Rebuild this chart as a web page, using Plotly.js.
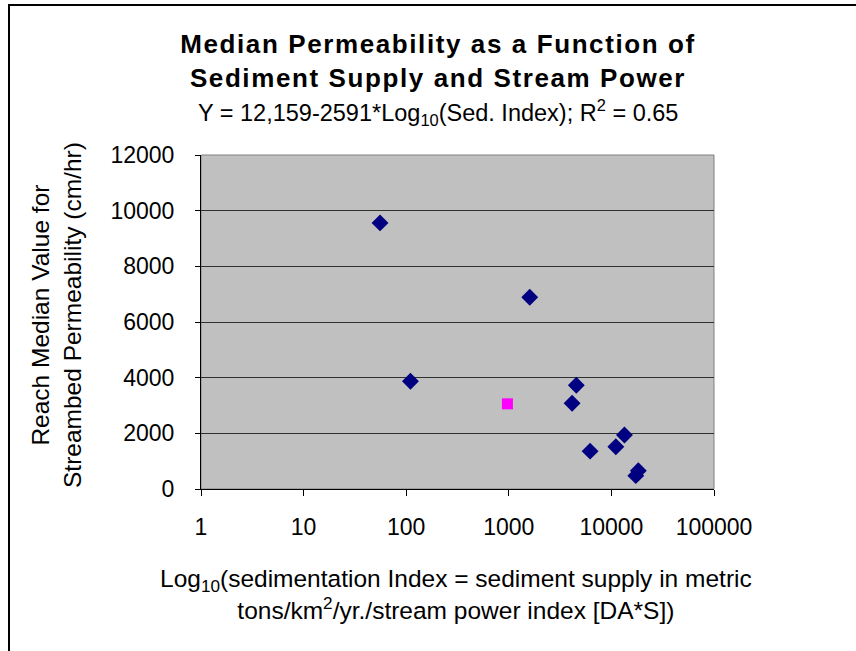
<!DOCTYPE html>
<html>
<head>
<meta charset="utf-8">
<script src="https://cdn.plot.ly/plotly-3.0.1.min.js"></script>
<style>
  html, body { margin: 0; padding: 0; background: #ffffff; }
  #frame { position: absolute; left: 8px; top: 4px; width: 860px; height: 660px;
           border-left: 2px solid #000; border-top: 2px solid #000; box-sizing: border-box; }
  #chart { position: absolute; left: 0; top: 0; width: 856px; height: 651px; }
  #chart text.gtitle { letter-spacing: 1.6px; }
</style>
</head>
<body>
<div id="chart"></div>
<div id="frame"></div>
<script>
// Sedimentation index (x, log scale) and reach median permeability (y, cm/hr)
const sedIndex = [55.6, 110, 1600, 4550, 4140, 6200, 11050, 13400, 18300, 17300];
const permeability = [9560, 3870, 6890, 3730, 3080, 1360, 1520, 1940, 660, 480];
// Highlighted site (magenta square)
const highlightSedIndex = [970];
const highlightPermeability = [3060];

const xTickVals = [1, 10, 100, 1000, 10000, 100000];
const xTickText = ['1', '10', '100', '1000', '10000', '100000'];
const yTickVals = [0, 2000, 4000, 6000, 8000, 10000, 12000];
const yTickText = ['0', '2000', '4000', '6000', '8000', '10000', '12000'];

const FONT = 'Liberation Sans, Arial, sans-serif';

const traces = [
  {
    x: sedIndex, y: permeability, type: 'scatter', mode: 'markers',
    marker: { symbol: 'diamond', color: '#000080', size: 13 },
    showlegend: false, cliponaxis: false
  },
  {
    x: highlightSedIndex, y: highlightPermeability, type: 'scatter', mode: 'markers',
    marker: { symbol: 'square', color: '#FF00FF', size: 11 },
    showlegend: false, cliponaxis: false
  }
];

const layout = {
  width: 856, height: 651,
  margin: { l: 201, r: 142, t: 155, b: 162 },
  paper_bgcolor: '#ffffff',
  plot_bgcolor: '#C0C0C0',
  font: { family: FONT, color: '#000000', size: 23 },
  title: {
    text: '<b>Median Permeability as a Function of<br>Sediment Supply and Stream Power</b>',
    font: { family: FONT, size: 26, color: '#000000' },
    x: 0.462, xref: 'paper', xanchor: 'center',
    y: 1 - 53 / 651, yref: 'container', yanchor: 'top'
  },
  xaxis: {
    type: 'log', range: [0, 5],
    tickvals: xTickVals, ticktext: xTickText,
    ticks: 'outside', ticklen: 6, tickcolor: '#000', tickwidth: 1,
    ticklabelstandoff: 11,
    showline: true, linecolor: '#000', linewidth: 1,
    showgrid: false, zeroline: false,
    tickfont: { family: FONT, size: 23, color: '#000' },
    fixedrange: true
  },
  yaxis: {
    range: [0, 12000],
    tickvals: yTickVals, ticktext: yTickText,
    ticks: 'outside', ticklen: 5, tickcolor: '#000', tickwidth: 1,
    ticklabelstandoff: 16,
    showline: true, linecolor: '#000', linewidth: 1,
    showgrid: true, gridcolor: '#303030', gridwidth: 1,
    zeroline: false,
    tickfont: { family: FONT, size: 23, color: '#000' },
    fixedrange: true
  },
  shapes: [
    { type: 'rect', xref: 'paper', yref: 'paper', x0: 0, x1: 1, y0: 0, y1: 1,
      line: { color: '#808080', width: 1 }, layer: 'below' }
  ],
  annotations: [
    {
      text: 'Y = 12,159-2591*Log<sub>10</sub>(Sed. Index); R<sup>2</sup> = 0.65',
      xref: 'paper', yref: 'paper', x: 0.462, y: (489 - 112) / 334,
      xanchor: 'center', yanchor: 'middle', showarrow: false,
      font: { family: FONT, size: 23.5, color: '#000' }
    },
    {
      text: 'Reach Median Value for<br>Streambed Permeability (cm/hr)',
      xref: 'paper', yref: 'paper', x: (56 - 201) / 513, y: (489 - 315) / 334,
      xanchor: 'center', yanchor: 'middle', textangle: -90, showarrow: false,
      font: { family: FONT, size: 24.5, color: '#000' }
    },
    {
      text: 'Log<sub>10</sub>(sedimentation Index = sediment supply in metric<br>tons/km<sup>2</sup>/yr./stream power index [DA*S])',
      xref: 'paper', yref: 'paper', x: (456 - 201) / 513, y: (489 - 594) / 334,
      xanchor: 'center', yanchor: 'middle', showarrow: false,
      font: { family: FONT, size: 24.5, color: '#000' }
    }
  ]
};

Plotly.newPlot('chart', traces, layout, { displayModeBar: false, staticPlot: true });
</script>
</body>
</html>
